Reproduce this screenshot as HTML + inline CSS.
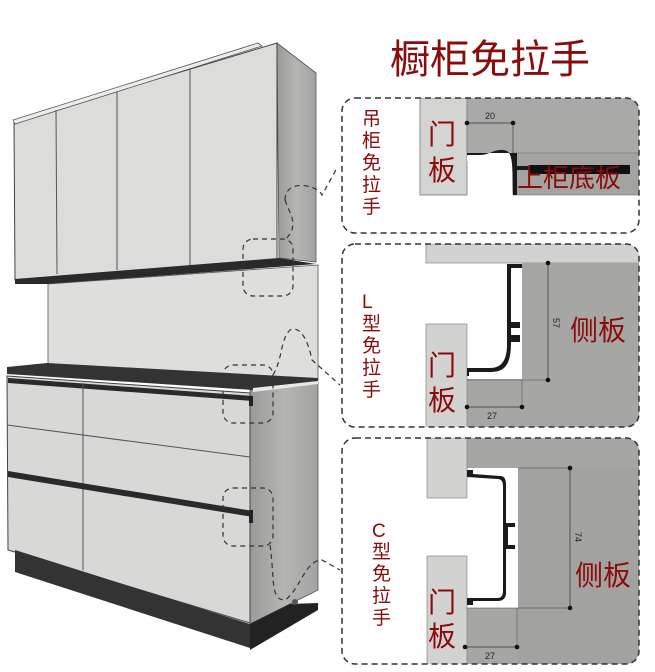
<!DOCTYPE html>
<html><head><meta charset="utf-8"><style>
html,body{margin:0;padding:0;background:#fff;}
svg{display:block;}
.t{font-family:"Liberation Sans","Noto Sans CJK SC",sans-serif;fill:#8b0a0a;}
.n{font-family:"Liberation Sans",sans-serif;font-size:9px;fill:#222;}
</style></head><body>
<svg width="655" height="672" viewBox="0 0 655 672" xmlns="http://www.w3.org/2000/svg">
<defs>
<linearGradient id="side" x1="0" y1="0" x2="1" y2="0"><stop offset="0" stop-color="#9a9a98"/><stop offset="0.5" stop-color="#b5b5b3"/><stop offset="1" stop-color="#a2a2a0"/></linearGradient>
<clipPath id="c1"><rect x="342" y="98" width="297" height="135" rx="13"/></clipPath>
<clipPath id="c2"><rect x="342" y="244" width="297" height="183" rx="13"/></clipPath>
<clipPath id="c3"><rect x="342" y="438" width="297" height="226" rx="13"/></clipPath>
</defs>
<text class="t" x="390" y="73" font-size="40">橱柜免拉手</text>

<!-- upper cabinet -->
<polygon points="277,43 316,73 316,262 279,258" fill="url(#side)" stroke="#555" stroke-width="0.8"/>
<polygon points="14,122 277,43 277,260 15,280" fill="#dcdcda" stroke="#444" stroke-width="1"/>
<polygon points="13,120 258,43 262,46 15,124" fill="#ececea" stroke="#555" stroke-width="0.8"/>
<line x1="56" y1="110" x2="57" y2="274" stroke="#555" stroke-width="1"/>
<line x1="117" y1="92" x2="117" y2="270" stroke="#555" stroke-width="1"/>
<line x1="190" y1="70" x2="190" y2="266" stroke="#555" stroke-width="1"/>
<polygon points="15,279 279,258 316,264 50,284 15,284" fill="#2a2a2a"/>
<polygon points="48,284 318,265 318,380 48,366" fill="#dededc" stroke="#555" stroke-width="0.8"/>

<!-- lower cabinet -->
<polygon points="250,390 318,382 318,590 250,624" fill="url(#side)" stroke="#555" stroke-width="0.8"/>
<polygon points="7,376 250,393 250,623 8,550" fill="#d8d8d6" stroke="#444" stroke-width="1"/>
<polygon points="7,367 47,363 318,378 318,383 253,390 7,374" fill="#333"/>
<polygon points="253,388 318,381 318,384 253,392" fill="#e8e8e6"/>
<polygon points="8,378 253,396 253,401 8,383" fill="#2a2a2a"/>
<rect x="249" y="396" width="4" height="10" fill="#222"/>
<line x1="83" y1="383" x2="83" y2="570" stroke="#555" stroke-width="1"/>
<line x1="7" y1="425" x2="250" y2="457" stroke="#555" stroke-width="1"/>
<polygon points="8,471 253,511 253,517 8,477" fill="#2a2a2a"/>
<rect x="249" y="510" width="4" height="13" fill="#222"/>
<polygon points="15,550 250,624 250,648 15,572" fill="#333"/>
<polygon points="250,624 290,604 318,603 318,610 250,650" fill="#222"/>
<circle cx="295" cy="602" r="3" fill="#555"/>

<g fill="none" stroke="#333" stroke-width="1.2" stroke-dasharray="5,4">
<rect x="243" y="239" width="50" height="57" rx="10"/>
<rect x="223" y="365" width="50" height="58" rx="10"/>
<rect x="223" y="488" width="50" height="58" rx="10"/>
<path d="M285,200 C285,178 318,185 322,195 L337,168"/>
<path d="M285,200 C290,215 300,225 285,240"/>
<path d="M273,375 C283,358 280,340 290,330 C300,325 308,340 312,360 L340,385"/>
<path d="M270,545 C275,580 270,600 285,600 C300,590 305,560 322,560 L340,570"/>
</g>

<!-- panel 1 -->
<g clip-path="url(#c1)">
<rect x="467" y="98" width="175" height="55" fill="#a9a9a7"/>
<rect x="513" y="153" width="129" height="42" fill="#a3a3a1" stroke="#777" stroke-width="0.6"/>
<rect x="420" y="98" width="47" height="97" fill="#d4d4d2" stroke="#777" stroke-width="0.8"/>
<path d="M467,155 L480,155 C490,155 497,147 507,151 C514,155 512,175 513,195 L517,195 L517,170 L530,170 L530,166 L517,166 L517,153 L467,153Z" fill="#1a1a1a"/>
<rect x="467" y="156" width="6" height="5" fill="#fff"/>
<rect x="530" y="165" width="100" height="9" fill="#111"/>
</g>
<line x1="467" y1="123" x2="513" y2="123" stroke="#333" stroke-width="0.8"/>
<line x1="513" y1="123" x2="513" y2="153" stroke="#333" stroke-width="0.6"/>
<circle cx="467" cy="123" r="2.3" fill="#111"/><circle cx="513" cy="123" r="2.3" fill="#111"/>
<text class="n" x="485" y="119">20</text>
<text class="t" x="428" y="144" font-size="28">门</text>
<text class="t" x="428" y="180" font-size="28">板</text>
<text class="t" x="517" y="187" font-size="26">上柜底板</text>
<g class="t" font-size="19"><text x="362" y="125">吊</text><text x="362" y="147">柜</text><text x="362" y="169">免</text><text x="362" y="191">拉</text><text x="362" y="213">手</text></g>

<!-- panel 2 -->
<g clip-path="url(#c2)">
<rect x="426" y="244" width="216" height="19" fill="#d2d2d0" stroke="#777" stroke-width="0.6"/>
<rect x="522" y="263" width="120" height="165" fill="#a6a6a4"/>
<rect x="467" y="379" width="71" height="49" fill="#a6a6a4"/>
<rect x="426" y="324" width="41" height="104" fill="#d2d2d0" stroke="#777" stroke-width="0.6"/>
<path d="M507,264 L522,264 L522,268 L511,268 L511,322 L520,322 L520,328 L511,328 L511,335 L520,335 L520,342 L511,342 C511,365 505,372 490,372 L469,372 L469,376 L467,376 L467,368 L490,368 C500,368 507,362 507,345Z" fill="#1a1a1a"/>
</g>
<line x1="548" y1="263" x2="548" y2="380" stroke="#333" stroke-width="0.7"/>
<line x1="467" y1="380" x2="548" y2="380" stroke="#444" stroke-width="0.5"/>
<line x1="467" y1="407" x2="522" y2="407" stroke="#333" stroke-width="0.7"/>
<line x1="522" y1="380" x2="522" y2="407" stroke="#444" stroke-width="0.5"/>
<circle cx="548" cy="263" r="2.3" fill="#111"/><circle cx="548" cy="380" r="2.3" fill="#111"/>
<circle cx="467" cy="407" r="2.3" fill="#111"/><circle cx="522" cy="407" r="2.3" fill="#111"/>
<text class="n" x="0" y="0" transform="translate(553,318) rotate(90)">57</text>
<text class="n" x="487" y="419">27</text>
<text class="t" x="428" y="375" font-size="28">门</text>
<text class="t" x="428" y="410" font-size="28">板</text>
<text class="t" x="570" y="340" font-size="28">侧板</text>
<g class="t" font-size="19"><text x="362" y="308">L</text><text x="362" y="330">型</text><text x="362" y="352">免</text><text x="362" y="374">拉</text><text x="362" y="396">手</text></g>

<!-- panel 3 -->
<g clip-path="url(#c3)">
<rect x="467" y="438" width="175" height="30" fill="#a6a6a4"/>
<rect x="518" y="468" width="124" height="197" fill="#a2a2a0"/>
<rect x="467" y="608" width="51" height="57" fill="#a6a6a4"/>
<rect x="427" y="438" width="40" height="60" fill="#d2d2d0" stroke="#777" stroke-width="0.6"/>
<rect x="427" y="556" width="40" height="109" fill="#d2d2d0" stroke="#777" stroke-width="0.6"/>
<path d="M467,470 L473,470 L473,474 L500,476 C505,476 506,480 506,485 L506,593 C506,598 503,601 498,601 L473,601 L473,605 L467,605 L467,598 L497,598 C502,598 503,595 503,590 L503,487 C503,482 502,479 497,479 L467,477Z" fill="#1a1a1a"/>
<path d="M505,523 L515,523 L515,527 L508,527 L508,545 L515,545 L515,549 L505,549Z" fill="#1a1a1a"/>
</g>
<line x1="518" y1="468" x2="570" y2="468" stroke="#444" stroke-width="0.5"/>
<line x1="467" y1="608" x2="570" y2="608" stroke="#444" stroke-width="0.5"/>
<line x1="570" y1="468" x2="570" y2="608" stroke="#333" stroke-width="0.7"/>
<line x1="517" y1="608" x2="517" y2="647" stroke="#444" stroke-width="0.5"/>
<line x1="465" y1="647" x2="517" y2="647" stroke="#333" stroke-width="0.7"/>
<circle cx="570" cy="468" r="2.3" fill="#111"/><circle cx="570" cy="608" r="2.3" fill="#111"/>
<circle cx="465" cy="647" r="2.3" fill="#111"/><circle cx="517" cy="647" r="2.3" fill="#111"/>
<text class="n" x="0" y="0" transform="translate(575,532) rotate(90)">74</text>
<text class="n" x="485" y="659">27</text>
<text class="t" x="428" y="612" font-size="28">门</text>
<text class="t" x="428" y="646" font-size="28">板</text>
<text class="t" x="575" y="585" font-size="28">侧板</text>
<g class="t" font-size="19"><text x="372" y="537">C</text><text x="372" y="558">型</text><text x="372" y="580">免</text><text x="372" y="602">拉</text><text x="372" y="624">手</text></g>

<g fill="none" stroke="#333" stroke-width="1.5" stroke-dasharray="6,4">
<rect x="342" y="98" width="297" height="135" rx="13"/>
<rect x="342" y="244" width="297" height="183" rx="13"/>
<rect x="342" y="438" width="297" height="226" rx="13"/>
</g>
</svg>
</body></html>
